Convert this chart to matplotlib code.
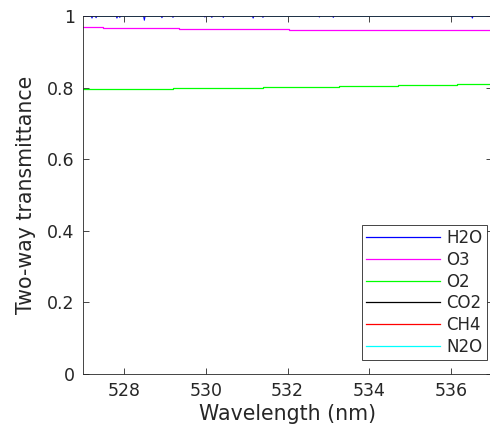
import numpy as np
import matplotlib.pyplot as plt

# O3 and O2 transmittance, piecewise constant over the band
o3_edges = [527.0, 527.48, 529.35, 532.04, 537.0]
o3_vals = [0.969, 0.966, 0.963, 0.960]
o2_edges = [527.0, 529.2, 531.4, 533.25, 534.7, 536.15, 537.0]
o2_vals = [0.795, 0.798, 0.801, 0.804, 0.807, 0.810]

# H2O is ~1 except for a few narrow absorption lines
h2o_line_wl = [527.22, 527.32, 527.83, 527.9, 528.5, 528.93, 529.2, 529.98,
               530.15, 530.43, 531.16, 531.4, 532.78, 533.12, 536.52]
h2o_line_val = [0.994, 0.995, 0.994, 0.996, 0.988, 0.995, 0.996, 0.997,
                0.996, 0.996, 0.994, 0.996, 0.997, 0.996, 0.994]

wl_range = [527.0, 537.0]
unity = [1.0, 1.0]

names = ['H2O', 'O3', 'O2', 'CO2', 'CH4', 'N2O']
colors = ['#0000ff', '#ff00ff', '#00ff00', '#000000', '#ff0000', '#00ffff']


def steps(edges, vals):
    x = np.repeat(edges, 2)[1:-1]
    y = np.repeat(vals, 2)
    return x, y


def absorption(lines, depths):
    x = [wl_range[0]]
    y = [1.0]
    for w, d in zip(lines, depths):
        x += [w - 0.02, w, w + 0.02]
        y += [1.0, d, 1.0]
    x.append(wl_range[1])
    y.append(1.0)
    return x, y


fig = plt.figure(figsize=(4.9, 4.32), dpi=100)
ax = fig.add_axes([83 / 490, 1 - 374 / 432, 409 / 490, 358 / 432])

hx, hy = absorption(h2o_line_wl, h2o_line_val)
ax.plot(hx, hy, color=colors[0], lw=0.7, label=names[0])
x, y = steps(o3_edges, o3_vals)
ax.plot(x, y, color=colors[1], lw=0.9, label=names[1])
x, y = steps(o2_edges, o2_vals)
ax.plot(x, y, color=colors[2], lw=0.9, label=names[2])
for name, c in zip(names[3:], colors[3:]):
    ax.plot(wl_range, unity, color=c, lw=0.7, label=name, zorder=1)

ax.set_xlim(wl_range)
ax.set_ylim(0, 1)
ax.set_xticks([528, 530, 532, 534, 536])
ax.set_yticks([0, 0.2, 0.4, 0.6, 0.8, 1])
ax.set_yticklabels(['0', '0.2', '0.4', '0.6', '0.8', '1'])
ax.tick_params(direction='in', top=True, right=True, length=4, pad=6,
               labelsize=12.5, color='#262626', labelcolor='#262626', width=0.6)
for s in ax.spines.values():
    s.set_color('#262626')
    s.set_linewidth(0.6)

ax.set_xlabel('Wavelength (nm)', fontsize=14.8, color='#262626', labelpad=3)
ax.set_ylabel('Two-way transmittance', fontsize=14.8, color='#262626',
              labelpad=8)

leg = ax.legend(loc='lower right', bbox_to_anchor=(0.987, 0.04), fontsize=12,
                fancybox=False, framealpha=1, edgecolor='#262626',
                handlelength=4.4, handletextpad=0.4, borderpad=0.25,
                labelspacing=0.22, borderaxespad=0)
leg.get_frame().set_linewidth(0.6)
for text in leg.get_texts():
    text.set_color('#262626')
for line in leg.get_lines():
    line.set_linewidth(0.9)

fig.savefig('out.png', dpi=100)
